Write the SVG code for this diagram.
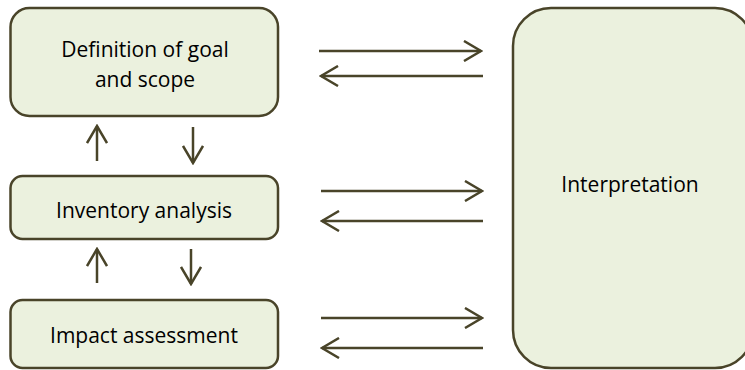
<svg xmlns="http://www.w3.org/2000/svg" width="745" height="370" viewBox="0 0 745 370">
<style>
.box{fill:#ebf1de;stroke:#494429;stroke-width:2.5}
.lbl{font-family:"Open Sans","Liberation Sans",sans-serif;font-size:21px;fill:#000;text-anchor:middle;font-variant-ligatures:none}
.ar{stroke:#494429;stroke-width:2.5;fill:none;marker-end:url(#chev)}
</style>
<defs>
<marker id="chev" viewBox="0 0 20 22" refX="18" refY="11" markerWidth="20" markerHeight="22" markerUnits="userSpaceOnUse" orient="auto">
<path d="M1,1 L18,11 L1,21" fill="none" stroke="#494429" stroke-width="2.5"/>
</marker>
</defs>
<g id="goal">
<rect class="box" x="10.5" y="8" width="267.5" height="108" rx="19"/>
<text class="lbl" x="145" y="57">Definition of goal</text>
<text class="lbl" x="145" y="87">and scope</text>
</g>
<g id="inventory">
<rect class="box" x="10.5" y="176" width="267.5" height="63" rx="12"/>
<text class="lbl" x="144" y="218">Inventory analysis</text>
</g>
<g id="impact">
<rect class="box" x="10.5" y="300" width="267.5" height="68" rx="12"/>
<text class="lbl" x="144" y="343">Impact assessment</text>
</g>
<g id="interpretation">
<rect class="box" x="513" y="8" width="240" height="360" rx="38"/>
<text class="lbl" x="630" y="192">Interpretation</text>
</g>
<g id="connectors">
<line class="ar" x1="319" y1="51" x2="481" y2="51"/>
<line class="ar" x1="483" y1="76" x2="321" y2="76"/>
<line class="ar" x1="321" y1="191" x2="482" y2="191"/>
<line class="ar" x1="483" y1="221" x2="322" y2="221"/>
<line class="ar" x1="321" y1="318" x2="482" y2="318"/>
<line class="ar" x1="483" y1="348" x2="322" y2="348"/>
<line class="ar" x1="97" y1="161" x2="97" y2="126"/>
<line class="ar" x1="193" y1="127" x2="193" y2="163"/>
<line class="ar" x1="97" y1="283" x2="97" y2="249"/>
<line class="ar" x1="191" y1="249" x2="191" y2="284"/>
</g>
</svg>
